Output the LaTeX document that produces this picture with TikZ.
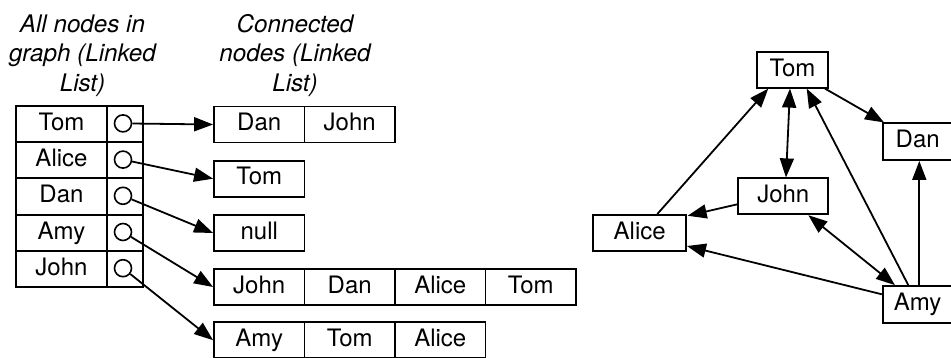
\documentclass[tikz,border=0pt]{standalone}
\usepackage{fontspec}
\setmainfont{TeX Gyre Heros}
\usetikzlibrary{arrows.meta,calc}

\tikzset{
  base/.style={font=\fontsize{24}{29.5}\selectfont},
  cell/.style={base, rectangle, draw, line width=1.8pt, inner sep=0pt,
    minimum height=36pt, text height=17pt, text depth=4.5pt},
  namecell/.style={cell, minimum width=91pt},
  ptrcell/.style={cell, minimum width=36pt},
  listcell/.style={cell, minimum width=90.5pt},
  gnode/.style={cell},
  ptr/.style={circle, draw, line width=1.6pt, minimum size=17pt, inner sep=0pt},
  link/.style={line width=1.8pt, -{Triangle[length=19pt,width=14pt]}},
  blink/.style={line width=1.8pt, {Triangle[length=19pt,width=14pt]}-{Triangle[length=19pt,width=14pt]}},
  heading/.style={align=center, inner sep=0pt, font=\fontsize{24.2}{29.5}\selectfont\itshape}
}

\begin{document}
\begin{tikzpicture}[x=1pt,y=-1pt]
\useasboundingbox (0,0) rectangle (951,358);
\clip (0,0) rectangle (951,358);

% column headings
\node[heading] (hAll) at (82.5,55.4) {All nodes in\\graph (Linked\\List)};
\node[heading] (hCon) at (295,55.4) {Connected\\nodes (Linked\\List)};

% table of all nodes with pointer column
\foreach \n/\t/\y in {1/Tom/124.2, 2/Alice/160.4, 3/Dan/196.6, 4/Amy/232.8, 5/John/269} {
  \node[namecell] (Ln\n) at (61.5,\y) {\t};
  \node[ptrcell]  (Lp\n) at (125,\y) {};
  \node[ptr]      (c\n)  at (123,\y-0.8) {};
}

% adjacency lists
\node[listcell] (r1a) at (259.25,124.5) {Dan};
\node[listcell] (r1b) at (349.75,124.5) {John};

\node[listcell] (r2a) at (259.25,178.7) {Tom};

\node[listcell] (r3a) at (259.25,233) {null};

\node[listcell] (r4a) at (259.25,287) {John};
\node[listcell] (r4b) at (349.75,287) {Dan};
\node[listcell] (r4c) at (440.25,287) {Alice};
\node[listcell] (r4d) at (530.75,287) {Tom};

\node[listcell] (r5a) at (259.25,340.2) {Amy};
\node[listcell] (r5b) at (349.75,340.2) {Tom};
\node[listcell] (r5c) at (440.25,340.2) {Alice};

% pointers from the table to the lists
\draw[link] (c1) -- (r1a.west);
\draw[link] (c2) -- (r2a.west);
\draw[link] (c3) -- (r3a.west);
\draw[link] (c4) -- (r4a.west);
\draw[link] (c5) -- (r5a.west);

% the graph itself
\node[gnode, minimum width=71.6pt, minimum height=35.4pt] (Tom)   at (792.5,70)    {Tom};
\node[gnode, minimum width=70pt,   minimum height=36.7pt] (Dan)   at (917.7,141.7) {Dan};
\node[gnode, minimum width=90pt]                          (John)  at (783.3,196.3) {John};
\node[gnode, minimum width=92.7pt, minimum height=35.7pt] (Alice) at (639.7,232.8) {Alice};
\node[gnode, minimum width=70pt,   minimum height=37.3pt] (Amy)   at (917.7,304.7) {Amy};

\draw[link]  ($(Alice.north)+(17.6,0)$) -- ($(Tom.south)+(-24.2,0)$);
\draw[blink] ($(Tom.south)+(-2.5,0)$) -- ($(John.north)+(2.7,0)$);
\draw[link]  (Tom) -- (Dan);
\draw[link]  ($(John.west)+(0,8)$) -- ($(Alice.north east)+(0.7,1.7)$);
\draw[link]  ($(Amy.west)+(0,-10.4)$) -- ($(Alice.east)+(0,13.2)$);
\draw[blink] ($(John.south)+(25,0)$) -- ($(Amy.north)+(-22.7,0)$);
\draw[link]  ($(Amy.north)+(-9.4,0)$) -- ($(Tom.south)+(14.2,0)$);
\draw[link]  ($(Amy.north)+(1.6,0)$) -- ($(Dan.south)+(1.6,0)$);
\end{tikzpicture}
\end{document}
